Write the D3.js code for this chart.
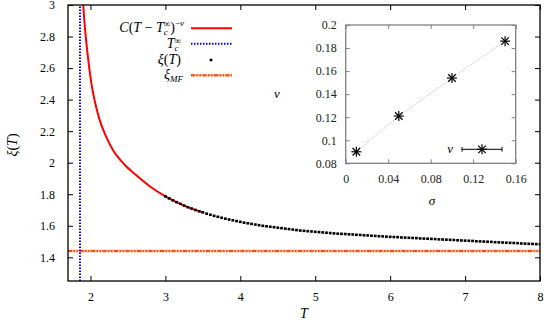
<!DOCTYPE html>
<html>
<head>
<meta charset="utf-8">
<script src="https://cdn.jsdelivr.net/npm/d3@7"></script>
<style>
  body { margin: 0; background: #fff; }
  svg text { font-family: "Liberation Serif", "DejaVu Serif", serif; }
</style>
</head>
<body>
<div id="chart"></div>
<script>

    const WIDTH = 545;
    const HEIGHT = 321;

    // main panel data
    const xTicks = [2, 3, 4, 5, 6, 7, 8];
    const yTicks = [1.4, 1.6, 1.8, 2, 2.2, 2.4, 2.6, 2.8, 3];

    // fitted curve C(T - Tc)^-nu
    const fitT  = [1.895, 1.904, 1.92, 1.94,  1.96,  1.985, 2.02, 2.06,  2.12,  2.2,   2.3,  2.45, 2.6,   2.8,   3.0,   3.25,  3.5];
    const fitXi = [3.1,   3.0,   2.89, 2.785, 2.695, 2.595, 2.48, 2.385, 2.275, 2.175, 2.08, 1.99, 1.925, 1.848, 1.787, 1.728, 1.685];

    const Tc_inf = 1.86;
    const xi_MF = 1.44;

    // measured xi(T)
    const dataT = [3.00, 3.05, 3.10, 3.15, 3.20, 3.25, 3.30, 3.35, 3.40, 3.45,
                   3.50, 3.55, 3.60, 3.65, 3.70, 3.75, 3.80, 3.85, 3.90, 3.95,
                   4.00, 4.05, 4.10, 4.15, 4.20, 4.25, 4.30, 4.35, 4.40, 4.45,
                   4.50, 4.55, 4.60, 4.65, 4.70, 4.75, 4.80, 4.85, 4.90, 4.95,
                   5.00, 5.05, 5.10, 5.15, 5.20, 5.25, 5.30, 5.35, 5.40, 5.45,
                   5.50, 5.55, 5.60, 5.65, 5.70, 5.75, 5.80, 5.85, 5.90, 5.95,
                   6.00, 6.05, 6.10, 6.15, 6.20, 6.25, 6.30, 6.35, 6.40, 6.45,
                   6.50, 6.55, 6.60, 6.65, 6.70, 6.75, 6.80, 6.85, 6.90, 6.95,
                   7.00, 7.05, 7.10, 7.15, 7.20, 7.25, 7.30, 7.35, 7.40, 7.45,
                   7.50, 7.55, 7.60, 7.65, 7.70, 7.75, 7.80, 7.85, 7.90, 7.95, 8.00];
    const dataXi = [1.787, 1.774, 1.762, 1.750, 1.739, 1.728, 1.718, 1.709, 1.700, 1.692,
                    1.685, 1.677, 1.670, 1.663, 1.657, 1.651, 1.645, 1.640, 1.635, 1.630,
                    1.625, 1.620, 1.616, 1.612, 1.608, 1.604, 1.600, 1.597, 1.594, 1.591,
                    1.588, 1.585, 1.582, 1.579, 1.576, 1.573, 1.570, 1.568, 1.566, 1.564,
                    1.562, 1.560, 1.558, 1.556, 1.554, 1.552, 1.550, 1.549, 1.548, 1.546,
                    1.545, 1.543, 1.542, 1.540, 1.539, 1.537, 1.536, 1.534, 1.533, 1.531,
                    1.530, 1.529, 1.528, 1.526, 1.525, 1.524, 1.523, 1.522, 1.520, 1.519,
                    1.518, 1.517, 1.516, 1.514, 1.513, 1.512, 1.511, 1.510, 1.508, 1.507,
                    1.506, 1.505, 1.504, 1.502, 1.501, 1.500, 1.499, 1.498, 1.496, 1.495,
                    1.494, 1.493, 1.492, 1.491, 1.490, 1.488, 1.487, 1.486, 1.485, 1.484, 1.483];

    // inset data
    const sigma = [0.01, 0.05, 0.10, 0.15];
    const nu = [0.090, 0.121, 0.154, 0.186];
    const insetXTicks = [0, 0.04, 0.08, 0.12, 0.16];
    const insetYTicks = [0.08, 0.1, 0.12, 0.14, 0.16, 0.18, 0.2];

    var svg = d3.select("#chart").append("svg")
        .attr("width", WIDTH)
        .attr("height", HEIGHT);

    var x = d3.scaleLinear().domain([1.7, 8]).range([68, 540]);
    var y = d3.scaleLinear().domain([1.25, 3]).range([281, 5]);
    var plain = function(d) { return String(d); };

    svg.append("defs").append("clipPath").attr("id", "clip")
        .append("rect").attr("x", 68).attr("y", 5).attr("width", 472).attr("height", 276);

    var plot = svg.append("g").attr("clip-path", "url(#clip)");

    // xi_MF line: pale band with dash-dot-dot on top
    plot.append("line")
        .attr("x1", x(1.7)).attr("x2", x(8))
        .attr("y1", y(xi_MF)).attr("y2", y(xi_MF))
        .style("stroke", "#ffc4a4").attr("stroke-width", 3);
    plot.append("line")
        .attr("x1", x(1.7)).attr("x2", x(8))
        .attr("y1", y(xi_MF)).attr("y2", y(xi_MF))
        .style("stroke", "#ff4a0a").attr("stroke-width", 2)
        .style("stroke-dasharray", "4,1.5,1.5,1.5,1.5,1.5");

    // Tc line
    plot.append("line")
        .attr("x1", x(Tc_inf)).attr("x2", x(Tc_inf))
        .attr("y1", y(1.25)).attr("y2", y(3))
        .style("stroke", "#0000ff").attr("stroke-width", 2)
        .style("stroke-dasharray", "1.5,1.5");

    // fit curve
    var fitLine = d3.line()
        .x(function(d, i) { return x(fitT[i]); })
        .y(function(d, i) { return y(fitXi[i]); })
        .curve(d3.curveMonotoneX);
    plot.append("path")
        .datum(fitT)
        .attr("d", fitLine)
        .attr("fill", "none")
        .style("stroke", "#ff0000")
        .attr("stroke-width", 2);

    // xi(T) points
    plot.selectAll("rect.pt")
        .data(dataT)
        .enter().append("rect")
        .attr("class", "pt")
        .attr("x", function(d) { return x(d) - 1.4; })
        .attr("y", function(d, i) { return y(dataXi[i]) - 1.3; })
        .attr("width", 2.8)
        .attr("height", 2.6)
        .attr("fill", "black");

    // axes (ticks inward, mirrored)
    svg.append("g").attr("transform", "translate(0,281)")
        .call(d3.axisBottom(x).tickValues(xTicks).tickFormat(plain).tickSizeInner(-5).tickSizeOuter(0).tickPadding(11))
        .call(styleAxis);
    svg.append("g").attr("transform", "translate(0,5)")
        .call(d3.axisTop(x).tickValues(xTicks).tickSizeInner(-5).tickSizeOuter(0).tickFormat(""))
        .call(styleAxis);
    svg.append("g").attr("transform", "translate(68,0)")
        .call(d3.axisLeft(y).tickValues(yTicks).tickFormat(plain).tickSizeInner(-5).tickSizeOuter(0).tickPadding(13))
        .call(styleAxis);
    svg.append("g").attr("transform", "translate(540,0)")
        .call(d3.axisRight(y).tickValues(yTicks).tickSizeInner(-5).tickSizeOuter(0).tickFormat(""))
        .call(styleAxis);

    function styleAxis(g) {
        g.select(".domain").remove();
        g.selectAll("line").style("stroke", "black").attr("stroke-width", 1);
        g.selectAll("text").style("font-family", "Liberation Serif").attr("font-size", 12).attr("fill", "black");
    }

    svg.append("rect")
        .attr("x", 68).attr("y", 5).attr("width", 472).attr("height", 276)
        .attr("fill", "none").style("stroke", "black").attr("stroke-width", 1.3);

    // axis labels
    svg.append("text")
        .attr("transform", "translate(17,145) rotate(-90)")
        .attr("text-anchor", "middle")
        .attr("font-size", 14)
        .html('<tspan font-style="italic">ξ</tspan>(<tspan font-style="italic">T</tspan>)');
    svg.append("text")
        .attr("x", 304).attr("y", 318)
        .attr("text-anchor", "middle")
        .attr("font-size", 14).attr("font-style", "italic")
        .text("T");

    // legend
    var legX = 184;
    svg.append("text").attr("x", legX).attr("y", 32).attr("text-anchor", "end").attr("font-size", 14)
        .html('<tspan font-style="italic">C</tspan>(<tspan font-style="italic">T</tspan> − <tspan font-style="italic">T</tspan>' +
              '<tspan font-style="italic" font-size="9" dy="2.5">c</tspan><tspan font-size="9" dx="-4" dy="-8">∞</tspan>' +
              '<tspan dy="5.5">)</tspan><tspan font-size="9" dy="-6">−</tspan><tspan font-style="italic" font-size="9">ν</tspan>');
    svg.append("text").attr("x", legX - 3).attr("y", 48).attr("text-anchor", "end").attr("font-size", 14)
        .html('<tspan font-style="italic">T</tspan><tspan font-style="italic" font-size="9" dy="2.5">c</tspan>' +
              '<tspan font-size="9" dx="-4" dy="-7">∞</tspan>');
    svg.append("text").attr("x", legX - 3).attr("y", 64).attr("text-anchor", "end").attr("font-size", 14)
        .html('<tspan font-style="italic">ξ</tspan>(<tspan font-style="italic">T</tspan>)');
    svg.append("text").attr("x", legX - 1).attr("y", 79).attr("text-anchor", "end").attr("font-size", 14)
        .html('<tspan font-style="italic">ξ</tspan><tspan font-style="italic" font-size="9" dy="3">MF</tspan>');

    svg.append("line").attr("x1", 191).attr("x2", 232).attr("y1", 28.3).attr("y2", 28.3)
        .style("stroke", "#ff0000").attr("stroke-width", 2);
    svg.append("line").attr("x1", 191).attr("x2", 232).attr("y1", 43.7).attr("y2", 43.7)
        .style("stroke", "#0000ff").attr("stroke-width", 2).style("stroke-dasharray", "1.5,1.5");
    svg.append("rect").attr("x", 209.6).attr("y", 58.7).attr("width", 2.8).attr("height", 2.6).attr("fill", "black");
    svg.append("line").attr("x1", 191).attr("x2", 232).attr("y1", 75.3).attr("y2", 75.3)
        .style("stroke", "#ffc4a4").attr("stroke-width", 3);
    svg.append("line").attr("x1", 191).attr("x2", 232).attr("y1", 75.3).attr("y2", 75.3)
        .style("stroke", "#ff4a0a").attr("stroke-width", 2).style("stroke-dasharray", "4,1.5,1.5,1.5,1.5,1.5");

    // ---- inset ----
    var ix = d3.scaleLinear().domain([0, 0.16]).range([345.7, 515.7]);
    var iy = d3.scaleLinear().domain([0.08, 0.2]).range([163.3, 25]);

    svg.append("rect")
        .attr("x", 345.7).attr("y", 25).attr("width", 170).attr("height", 138.3)
        .attr("fill", "white");

    svg.append("g").attr("transform", "translate(0,163.3)")
        .call(d3.axisBottom(ix).tickValues(insetXTicks).tickFormat(plain).tickSizeInner(-4).tickSizeOuter(0).tickPadding(11))
        .call(styleInset);
    svg.append("g").attr("transform", "translate(0,25)")
        .call(d3.axisTop(ix).tickValues(insetXTicks).tickSizeInner(-4).tickSizeOuter(0).tickFormat(""))
        .call(styleInset);
    svg.append("g").attr("transform", "translate(345.7,0)")
        .call(d3.axisLeft(iy).tickValues(insetYTicks).tickFormat(plain).tickSizeInner(-4).tickSizeOuter(0).tickPadding(9))
        .call(styleInset);
    svg.append("g").attr("transform", "translate(515.7,0)")
        .call(d3.axisRight(iy).tickValues(insetYTicks).tickSizeInner(-4).tickSizeOuter(0).tickFormat(""))
        .call(styleInset);

    function styleInset(g) {
        g.select(".domain").remove();
        g.selectAll("line").style("stroke", "#808080").attr("stroke-width", 1);
        g.selectAll("text").style("font-family", "Liberation Serif").attr("font-size", 12).attr("fill", "#222");
    }

    svg.append("rect")
        .attr("x", 345.7).attr("y", 25).attr("width", 170).attr("height", 138.3)
        .attr("fill", "none").style("stroke", "#808080").attr("stroke-width", 1.3);

    // connecting line
    var nuLine = d3.line()
        .x(function(d, i) { return ix(sigma[i]); })
        .y(function(d, i) { return iy(nu[i]); });
    svg.append("path")
        .datum(sigma)
        .attr("d", nuLine)
        .attr("fill", "none")
        .style("stroke", "#a0a0a0")
        .attr("stroke-width", 0.7)
        .style("stroke-dasharray", "1,1");

    // star markers
    function star(cx, cy, r) {
        var g = svg.append("g").style("stroke", "black").attr("stroke-width", 1.2);
        g.append("line").attr("x1", cx - r).attr("x2", cx + r).attr("y1", cy).attr("y2", cy);
        g.append("line").attr("x1", cx).attr("x2", cx).attr("y1", cy - r).attr("y2", cy + r);
        g.append("line").attr("x1", cx - r * 0.75).attr("x2", cx + r * 0.75).attr("y1", cy - r * 0.75).attr("y2", cy + r * 0.75);
        g.append("line").attr("x1", cx - r * 0.75).attr("x2", cx + r * 0.75).attr("y1", cy + r * 0.75).attr("y2", cy - r * 0.75);
    }
    sigma.forEach(function(s, i) {
        star(ix(s), iy(nu[i]), 5);
    });

    // inset key
    svg.append("text").attr("x", 453).attr("y", 153).attr("text-anchor", "end")
        .attr("font-size", 13).attr("font-style", "italic").text("ν");
    svg.append("line").attr("x1", 462).attr("x2", 502).attr("y1", 149.3).attr("y2", 149.3)
        .style("stroke", "black").attr("stroke-width", 1);
    svg.append("line").attr("x1", 462).attr("x2", 462).attr("y1", 147).attr("y2", 151.6)
        .style("stroke", "black").attr("stroke-width", 1);
    svg.append("line").attr("x1", 502).attr("x2", 502).attr("y1", 147).attr("y2", 151.6)
        .style("stroke", "black").attr("stroke-width", 1);
    star(482, 149.3, 5);

    // inset axis labels
    svg.append("text").attr("x", 277).attr("y", 98).attr("text-anchor", "middle")
        .attr("font-size", 13).attr("font-style", "italic").text("ν");
    svg.append("text").attr("x", 432).attr("y", 205).attr("text-anchor", "middle")
        .attr("font-size", 13).attr("font-style", "italic").text("σ");

</script>
</body>
</html>
